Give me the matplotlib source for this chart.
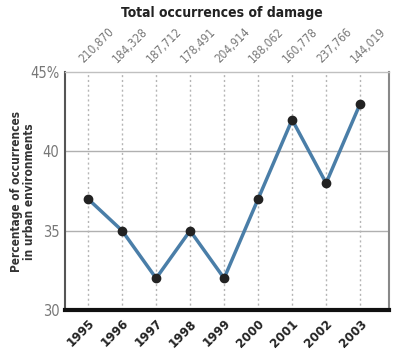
import matplotlib
matplotlib.use('Agg')
import matplotlib.pyplot as plt
from matplotlib import font_manager as fm
import matplotlib.transforms as mtrans

years = [1995, 1996, 1997, 1998, 1999, 2000, 2001, 2002, 2003]
pct = [37, 35, 32, 35, 32, 37, 42, 38, 43]
damage = ['210,870', '184,328', '187,712', '178,491', '204,914',
          '188,062', '160,778', '237,766', '144,019']
yticks = [30, 35, 40, 45]
ylabels = ['30', '35', '40', '45%']

names = {f.name for f in fm.fontManager.ttflist}
fam = 'Liberation Sans Narrow' if 'Liberation Sans Narrow' in names else 'DejaVu Sans'
plt.rcParams['font.family'] = [fam, 'DejaVu Sans']
plt.rcParams['font.stretch'] = 'condensed'

fig = plt.figure(figsize=(4, 3.61), dpi=100)
ax = fig.add_axes([0.1625, 0.1413, 0.81, 0.659])

ax.set_xlim(1994.32, 2003.85)
ax.set_ylim(30, 45)

for y in [35, 40]:
    ax.axhline(y, color='#b0b0b0', lw=1, zorder=1)
for x in years:
    ax.axvline(x, color='#b5b5b5', lw=1, ls=(0, (1.5, 2)), zorder=1)

ax.plot(years, pct, color='#4a7ea8', lw=2.5, zorder=3)
ax.plot(years, pct, 'o', color='#222222', ms=6, zorder=4)

ax.spines['left'].set_color('#555555')
ax.spines['left'].set_linewidth(1.5)
ax.spines['bottom'].set_color('#111111')
ax.spines['bottom'].set_linewidth(3)
ax.spines['right'].set_color('#888888')
ax.spines['right'].set_linewidth(1.5)
ax.spines['top'].set_color('#c0c0c0')
ax.spines['top'].set_linewidth(1)

ax.set_yticks(yticks)
ax.set_yticklabels(ylabels, color='#777777', fontsize=10.5)
ax.tick_params(axis='y', length=0, pad=4)

ax.set_xticks(years)
ax.set_xticklabels([str(y) for y in years], rotation=45, ha='right',
                   rotation_mode='anchor', fontweight='bold', fontsize=9.5,
                   color='#222222')
ax.tick_params(axis='x', length=0, pad=5)

trans = mtrans.blended_transform_factory(ax.transData, ax.transAxes)
for x, lab in zip(years, damage):
    ax.text(x - 0.08, 1.03, lab, transform=trans, rotation=45, ha='left',
            va='bottom', rotation_mode='anchor', fontsize=8.5, color='#777777')

fig.text(0.555, 0.965, 'Total occurrences of damage', ha='center', va='center',
         fontsize=10, fontweight='bold', color='#222222')

fig.text(0.058, 0.47, 'Percentage of occurrences\nin urban environments',
         rotation=90, ha='center', va='center', fontsize=8.5,
         fontweight='bold', color='#333333', linespacing=1.0)

fig.savefig('out.png', dpi=100)
